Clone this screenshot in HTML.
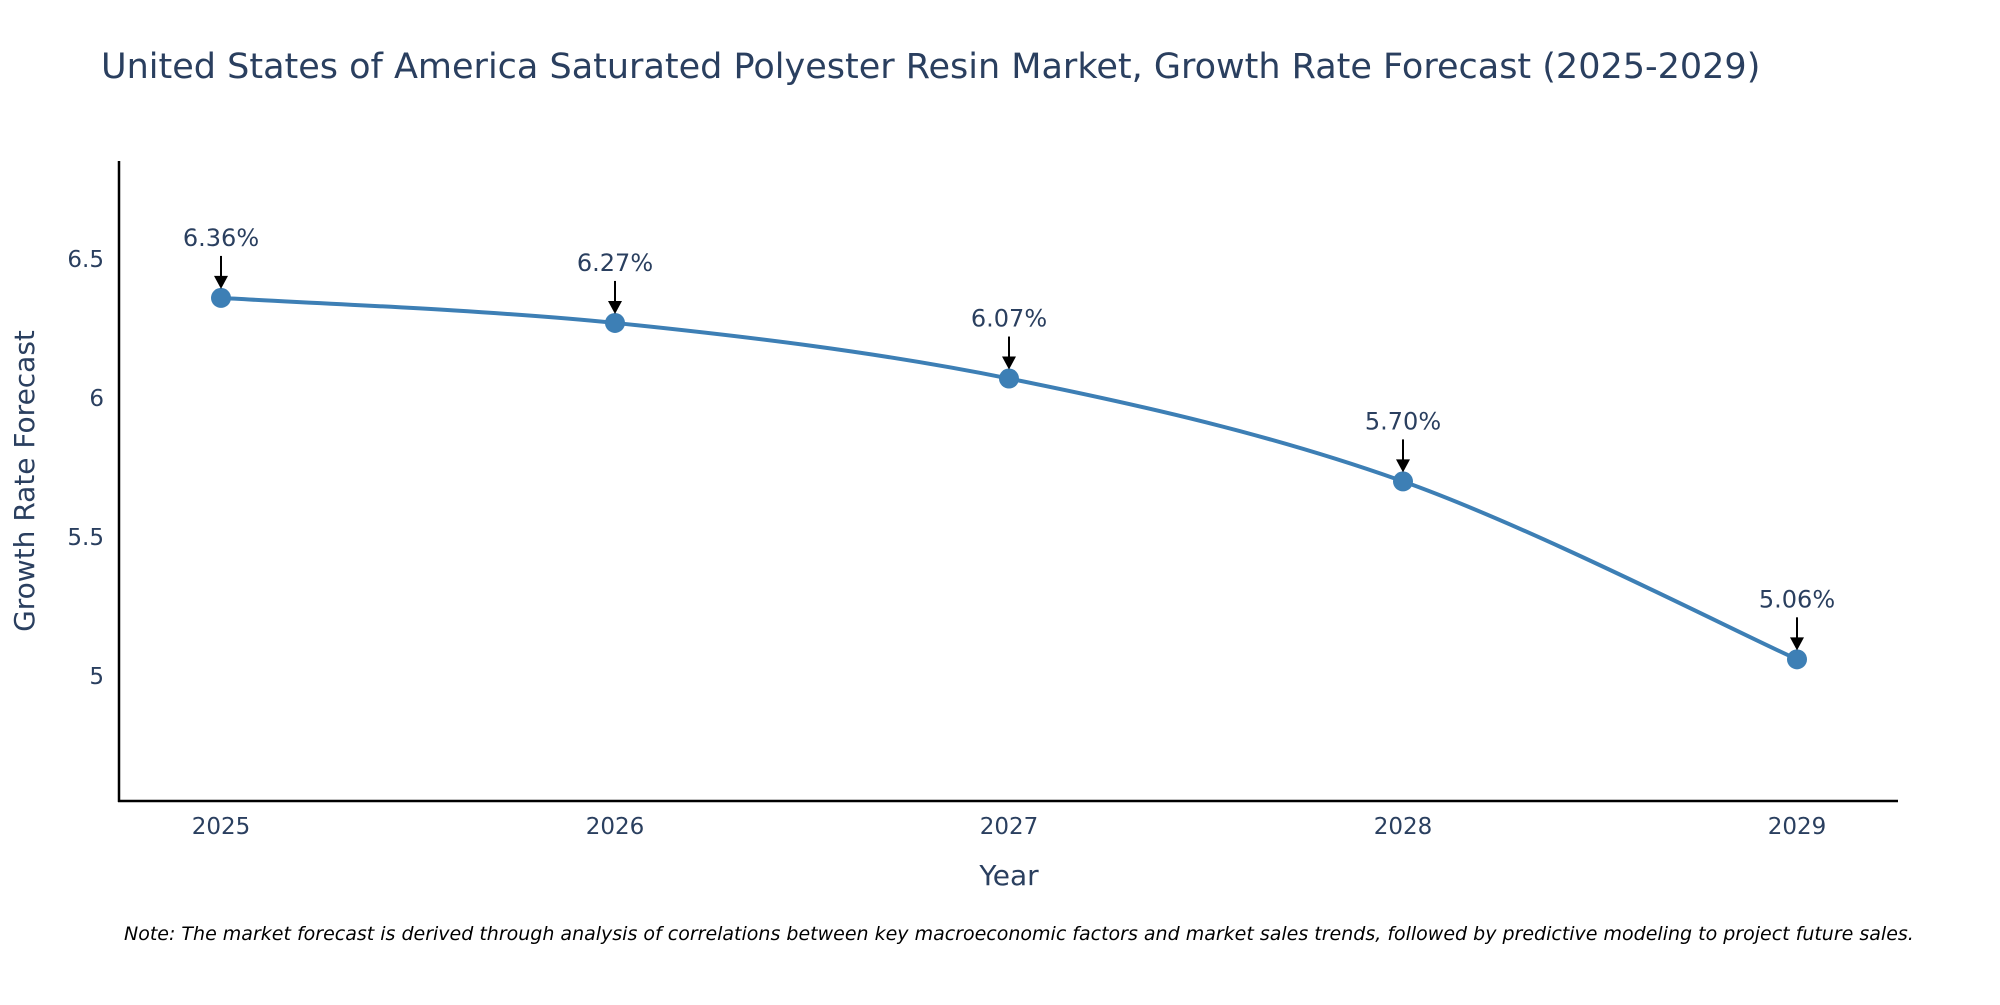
<!DOCTYPE html>
<html><head><meta charset="utf-8"><style>
body{margin:0;background:#fff;overflow:hidden;}
svg text{font-family:"DejaVu Sans","Liberation Sans",sans-serif;}
</style></head><body>
<svg id="chart" width="2000" height="1000" xmlns="http://www.w3.org/2000/svg">
<rect width="2000" height="1000" fill="#fff"/>
<text x="101" y="78" font-size="35" fill="#2a3f5f">United States of America Saturated Polyester Resin Market, Growth Rate Forecast (2025-2029)</text>
<g id="plot"></g>
<line x1="119" y1="161" x2="119" y2="802" stroke="#000" stroke-width="2.5"/>
<line x1="118" y1="801" x2="1898" y2="801" stroke="#000" stroke-width="2.5"/>
<text transform="translate(34,481) rotate(-90)" text-anchor="middle" font-size="28" fill="#2a3f5f">Growth Rate Forecast</text>
<text x="1009" y="885" text-anchor="middle" font-size="28" fill="#2a3f5f">Year</text>
<text x="124" y="940" font-size="19" font-style="italic" fill="#000">Note: The market forecast is derived through analysis of correlations between key macroeconomic factors and market sales trends, followed by predictive modeling to project future sales.</text>
</svg>
<script>
const years = ["2025","2026","2027","2028","2029"];
const values = [6.36, 6.27, 6.07, 5.70, 5.06];
const labels = ["6.36%","6.27%","6.07%","5.70%","5.06%"];
const yTicks = [5, 5.5, 6, 6.5];
const NS="http://www.w3.org/2000/svg";
const g=document.getElementById('plot');
function xs(i){return 221+i*(1797-221)/(years.length-1);}
function ys(v){return 676-(v-5)*278;}
function mk(t,a,p){const e=document.createElementNS(NS,t);for(const k in a)e.setAttribute(k,a[k]);(p||g).appendChild(e);return e;}
yTicks.forEach(v=>{const t=mk('text',{x:104,y:ys(v)+8,'text-anchor':'end','font-size':23,fill:'#2a3f5f'});


t.textContent=v;});
years.forEach((y,i)=>{const t=mk('text',{x:xs(i),y:834,'text-anchor':'middle','font-size':23,fill:'#2a3f5f'});


t.textContent=y;});
const P=values.map((v,i)=>[xs(i),ys(v)]);
let d='M'+P[0][0]+','+P[0][1];
for(let i=0;i<P.length-1;i++){const p0=P[Math.max(i-1,0)],p1=P[i],p2=P[i+1],p3=P[Math.min(i+2,P.length-1)];
const c1=[p1[0]+(p2[0]-p0[0])/6,p1[1]+(p2[1]-p0[1])/6],c2=[p2[0]-(p3[0]-p1[0])/6,p2[1]-(p3[1]-p1[1])/6];
d+=' C'+c1+' '+c2+' '+p2;}
const line=mk('path',{d:d,fill:'none',stroke:'#3d7fb5','stroke-width':4});


P.forEach((p,i)=>{
const c=mk('circle',{cx:p[0],cy:p[1],r:10,fill:'#3d7fb5'});


const a=mk('line',{x1:p[0],y1:p[1]-42,x2:p[0],y2:p[1]-20,stroke:'#000','stroke-width':2});


const h=mk('polygon',{points:(p[0]-7)+','+(p[1]-22)+' '+(p[0]+7)+','+(p[1]-22)+' '+p[0]+','+(p[1]-9),fill:'#000'});


const t=mk('text',{x:p[0],y:p[1]-52,'text-anchor':'middle','font-size':24,fill:'#2a3f5f'});


t.textContent=labels[i];
});
</script>
</body></html>
